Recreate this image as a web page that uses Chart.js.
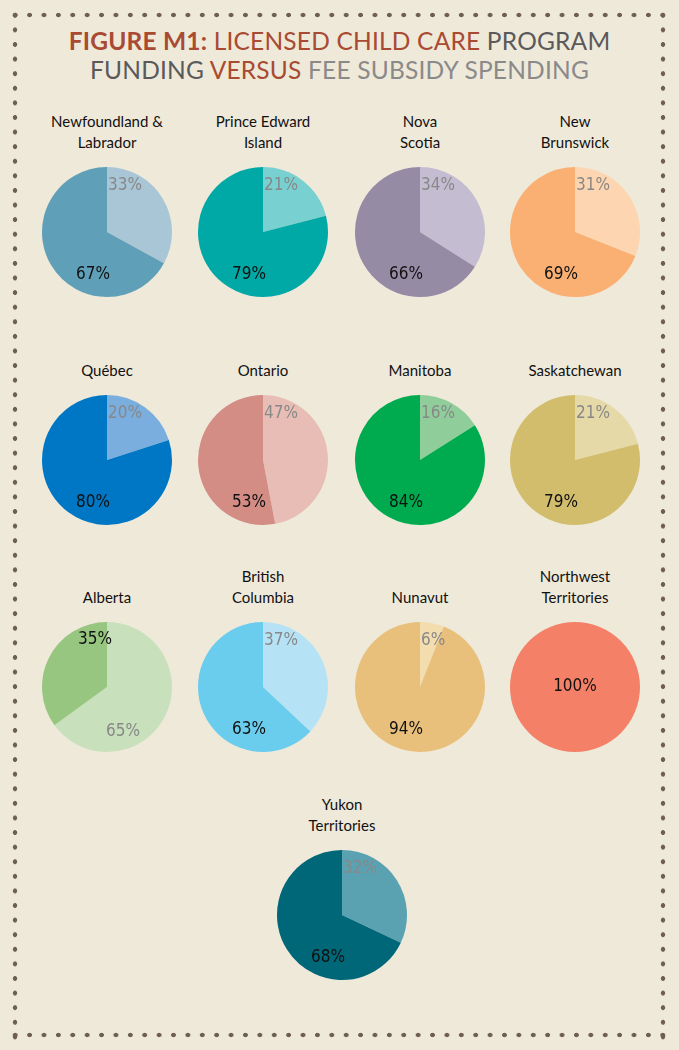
<!DOCTYPE html>
<html><head><meta charset="utf-8">
<script src="https://cdn.jsdelivr.net/npm/chart.js@4"></script>
<style>
body{margin:0;background:#efe9da;width:679px;height:1050px;position:relative;overflow:hidden;font-family:Lato,sans-serif}
.dh{position:absolute;height:6px;background:radial-gradient(circle,#6e5f52 2px,transparent 2.6px);background-size:14.4px 6px}
.dv{position:absolute;width:6px;background:radial-gradient(circle,#6e5f52 2px,transparent 2.6px);background-size:6px 14.6px}
h1{position:absolute;top:26px;left:0;width:679px;text-align:center;margin:0;font-weight:400;font-size:24.5px;line-height:29px;letter-spacing:0.2px}
.r{color:#a84b32}.g{color:#5a5a5a}.lg{color:#8a8a8a}
.nm{position:absolute;width:160px;text-align:center;font-size:15px;line-height:21px;color:#111;font-family:Lato,sans-serif}
canvas{position:absolute}
</style></head><body>
<div class="dh" style="left:8px;top:12px;width:664px"></div>
<div class="dh" style="left:8px;top:1032px;width:664px"></div>
<div class="dv" style="left:12px;top:8px;height:1034px"></div>
<div class="dv" style="left:660px;top:8px;height:1034px"></div>
<h1><span class="r"><b>FIGURE M1:</b> LICENSED CHILD CARE</span> <span class="g">PROGRAM</span><br><span class="g">FUNDING</span> <span class="r">VERSUS</span> <span class="lg">FEE SUBSIDY SPENDING</span></h1>
<script>
const regions=["Newfoundland &\nLabrador","Prince Edward\nIsland","Nova\nScotia","New\nBrunswick","Québec","Ontario","Manitoba","Saskatchewan","Alberta","British\nColumbia","Nunavut","Northwest\nTerritories","Yukon\nTerritories"];
const feeSubsidy=[33,21,34,31,20,47,16,21,65,37,6,0,32];
const programFunding=[67,79,66,69,80,53,84,79,35,63,94,100,68];
const darkColors=["#5f9fb8","#00a9a6","#968ba5","#fbb073","#0077c4","#d38d84","#00aa4f","#d2bd6c","#97c680","#6bcdee","#e8c07c","#f48068","#006778"];
const lightColors=["#a9c6d6","#79d0d0","#c4bcd0","#fdd5b0","#7aaedf","#e8bdb5","#8fce9b","#e6d9a8","#c8e0bc","#b5e3f5","#f3dcae","#f48068","#5aa2b2"];
const centers=[[107,232],[263,232],[420,232],[575,232],[107,460],[263,460],[420,460],[575,460],[107,687],[263,687],[420,687],[575,687],[342,915]];
const R=65;
regions.forEach((name,i)=>{
  const [cx,cy]=centers[i];
  const lines=name.split("\n");
  const d=document.createElement("div");d.className="nm";
  d.style.left=(cx-80)+"px";d.style.top=(cy-R-14-21*lines.length)+"px";
  d.innerHTML=lines.join("<br>");document.body.appendChild(d);
  const c=document.createElement("canvas");
  const S=2*R+4;c.width=S;c.height=S;c.style.width=S+"px";c.style.height=S+"px";
  c.style.left=(cx-S/2)+"px";c.style.top=(cy-S/2)+"px";document.body.appendChild(c);
  const alberta=i===8;
  new Chart(c,{type:"pie",
    data:{labels:["Fee subsidy","Program funding"],datasets:[{data:[feeSubsidy[i],programFunding[i]],backgroundColor:[lightColors[i],darkColors[i]],borderWidth:0}]},
    options:{responsive:false,animation:false,layout:{padding:2},plugins:{legend:{display:false},tooltip:{enabled:false}}},
    plugins:[{id:"lbl",afterDraw(ch){
      const x=ch.ctx,a=ch.chartArea,mx=(a.left+a.right)/2,top=a.top,bot=a.bottom;
      x.save();x.font="17px 'DejaVu Sans Condensed',sans-serif";x.textBaseline="middle";
      const f=feeSubsidy[i],p=programFunding[i];
      if(f===0){x.fillStyle="#111";x.textAlign="center";x.fillText(p+"%",mx,(top+bot)/2);}
      else if(alberta){x.textAlign="center";x.fillStyle="#111";x.fillText(p+"%",mx-12,top+18);x.fillStyle="#888";x.fillText(f+"%",mx+16,bot-20);}
      else{x.textAlign="left";x.fillStyle="#888";x.fillText(f+"%",mx+1,top+19);x.textAlign="center";x.fillStyle="#111";x.fillText(p+"%",mx-14,bot-22);}
      x.restore();}}]
  });
});
</script>
</body></html>
